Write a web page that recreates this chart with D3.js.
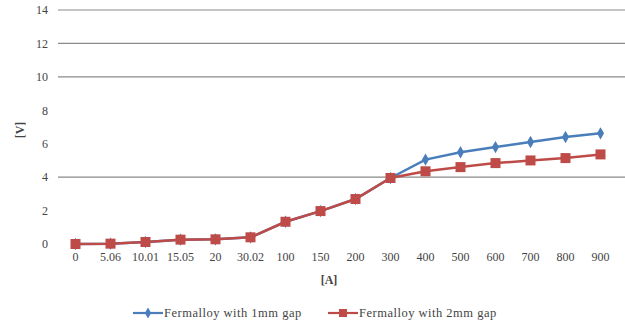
<!DOCTYPE html>
<html><head><meta charset="utf-8">
<script src="https://cdn.jsdelivr.net/npm/d3@7"></script>
<style>body{margin:0;background:#fff}svg{display:block}svg text{font-family:"Liberation Serif","Times New Roman",serif !important;fill:#444}</style>
</head><body><svg id="c" width="625" height="324"></svg>
<script>
const categories = ["0","5.06","10.01","15.05","20","30.02","100","150","200","300","400","500","600","700","800","900"];
const gap1mm = [0,0.02,0.12,0.26,0.28,0.4,1.33,1.97,2.69,3.95,5.05,5.49,5.8,6.1,6.4,6.62];
const gap2mm = [0,0.02,0.12,0.26,0.28,0.4,1.33,1.97,2.69,3.95,4.35,4.6,4.84,5.0,5.14,5.36];
const yTicks = [0,2,4,6,8,10,12,14];
const gridValues = [4,10,12,14];
const seriesNames = ["Fermalloy with 1mm gap","Fermalloy with 2mm gap"];

const svg = d3.select("#c");
const x = d3.scaleBand().domain(categories).range([58,618]);
const y = d3.scaleLinear().domain([0,14]).range([244,10]);
const blue = "#4a7ebb", red = "#be4b48";

svg.append("g").selectAll("line").data(gridValues).join("line")
  .attr("x1",58).attr("x2",625).attr("y1",d=>y(d)).attr("y2",d=>y(d))
  .attr("stroke","#8a8a8a").attr("stroke-width",1.2);

const yAxis = svg.append("g").attr("transform","translate(48,0)")
  .call(d3.axisLeft(y).tickValues(yTicks).tickSize(0).tickPadding(0));
yAxis.select(".domain").remove();
yAxis.attr("font-family",null);
yAxis.selectAll("text").style("font-size","12px").style("font-family","'Liberation Serif', serif");

const xAxis = svg.append("g").attr("transform","translate(0,252)")
  .call(d3.axisBottom(x).tickSize(0).tickPadding(0));
xAxis.select(".domain").remove();
xAxis.attr("font-family",null);
xAxis.selectAll("text").style("font-size","12px").style("font-family","'Liberation Serif', serif");

svg.append("text").attr("x",329).attr("y",284).attr("text-anchor","middle")
  .style("font-size","12px").attr("font-weight","bold").text("[A]");
svg.append("text").attr("transform","translate(24,130) rotate(-90)").attr("text-anchor","middle")
  .style("font-size","12px").attr("font-weight","bold").text("[V]");

const line = d3.line().x((d,i)=>x(categories[i])+x.bandwidth()/2).y(d=>y(d));
const diamond = d3.symbol().type(d3.symbolDiamond).size(44);

svg.append("path").datum(gap1mm).attr("d",line).attr("fill","none").attr("stroke",blue).attr("stroke-width",2.5);
svg.append("g").selectAll("path").data(gap1mm).join("path")
  .attr("d",diamond).attr("fill",blue)
  .attr("transform",(d,i)=>`translate(${x(categories[i])+x.bandwidth()/2},${y(d)})`);

svg.append("path").datum(gap2mm).attr("d",line).attr("fill","none").attr("stroke",red).attr("stroke-width",2.5);
svg.append("g").selectAll("rect").data(gap2mm).join("rect")
  .attr("width",10).attr("height",10).attr("fill",red)
  .attr("x",(d,i)=>x(categories[i])+x.bandwidth()/2-5).attr("y",d=>y(d)-5);

// legend
const lg = svg.append("g");
const items = [{n:seriesNames[0],c:blue,x:133,t:"d"},{n:seriesNames[1],c:red,x:328,t:"s"}];
items.forEach(it=>{
  lg.append("line").attr("x1",it.x).attr("x2",it.x+30).attr("y1",313).attr("y2",313).attr("stroke",it.c).attr("stroke-width",2.2);
  if(it.t==="d") lg.append("path").attr("d",d3.symbol().type(d3.symbolDiamond).size(34)).attr("fill",it.c).attr("transform",`translate(${it.x+15},313)`);
  else lg.append("rect").attr("x",it.x+11).attr("y",309).attr("width",8).attr("height",8).attr("fill",it.c);
  lg.append("text").attr("x",it.x+31).attr("y",317).style("font-size","12.5px")
    .attr("letter-spacing","0.5px").text(it.n);
});
</script></body></html>
